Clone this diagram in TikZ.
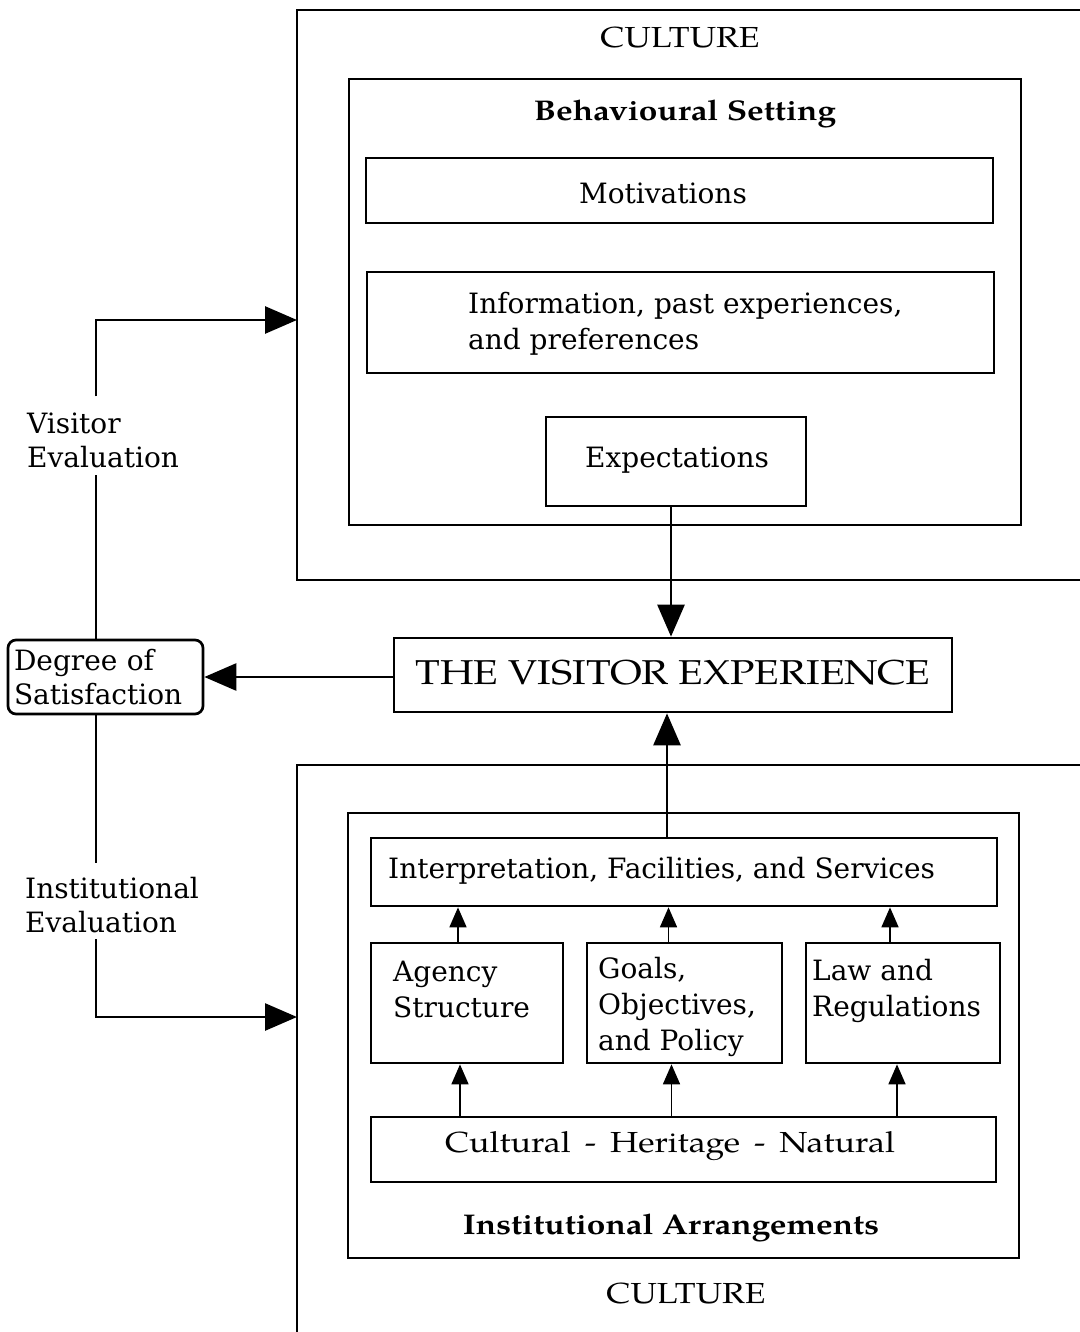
\documentclass[tikz,border=0pt]{standalone}
\usepackage{fontspec}
\setmainfont{DejaVu Serif}
\newfontfamily\pala{texgyrepagella}[Extension=.otf,UprightFont=*-regular,BoldFont=*-bold,FakeStretch=1.17]
\usetikzlibrary{arrows.meta}
\begin{document}
\begin{tikzpicture}[x=1pt,y=-1pt,
  box/.style={draw,line width=2.7pt,inner sep=0pt},
  frame/.style={line width=2.7pt},
  txt/.style={inner sep=0pt,align=left,font=\fontsize{28}{36}\selectfont},
  title/.style={inner sep=0pt,font=\pala\bfseries\fontsize{28.5}{34}\selectfont},
  cult/.style={inner sep=0pt,font=\pala\fontsize{29}{34}\selectfont},
  arr/.style={line width=2.7pt,-{Triangle[length=32pt,width=27pt]}},
  sarr/.style={line width=1.7pt,-{Triangle[length=20pt,width=17pt]}},
  line/.style={line width=2.7pt}]
\useasboundingbox (0,0) rectangle (1079,1332);

% outer CULTURE frames (open on the right / bottom)
\draw[frame] (1085,10) -- (297,10) -- (297,580) -- (1085,580);
\draw[frame] (1085,765) -- (297,765) -- (297,1340);
\coordinate (cultTopW) at (297,320);
\coordinate (cultBotW) at (297,1017);
\node[cult] (cultT) at (680,38) {CULTURE};
\node[cult] (cultB) at (686,1293) {CULTURE};

% Behavioural setting
\node[box,minimum width=672pt,minimum height=446pt] (beh) at (685,302) {};
\node[title] (behT) at (685,114) {Behavioural Setting};
\node[box,minimum width=627pt,minimum height=65pt] (mot) at (679.5,190.5) {};
\node[txt] (motT) at (663,193) {Motivations};
\node[box,minimum width=627pt,minimum height=101pt] (info) at (680.5,322.5) {};
\node[txt,anchor=west] (infoT) at (468,324) {Information, past experiences,\\and preferences};
\node[box,minimum width=260pt,minimum height=89pt] (exp) at (676,461.5) {};
\node[txt] (expT) at (677,460) {Expectations};

% Visitor experience
\node[box,minimum width=558pt,minimum height=74pt] (ve) at (673,675) {};
\node[inner sep=0pt,font=\pala\fontsize{34.5}{40}\selectfont] (veT) at (673,673) {THE VISITOR EXPERIENCE};

% Degree of satisfaction
\node[draw,line width=2.7pt,rounded corners=8pt,minimum height=74pt,
      inner xsep=6pt,inner ysep=0pt,text width=183pt,align=left,
      font=\fontsize{28}{34}\selectfont] (dos) at (105.5,677) {Degree of\\Satisfaction};

% Institutional arrangements
\node[box,minimum width=671pt,minimum height=445pt] (ia) at (683.5,1035.5) {};
\node[title] (iaT) at (671,1228) {Institutional Arrangements};
\node[box,minimum width=626pt,minimum height=68pt] (interp) at (684,872) {};
\node[txt,anchor=west] (interpT) at (388,871) {Interpretation, Facilities, and Services};
\node[box,minimum width=192pt,minimum height=120pt] (agency) at (467,1003) {};
\node[txt,anchor=west] (agencyT) at (393,989) {Agency\\Structure};
\node[box,minimum width=195pt,minimum height=120pt] (goals) at (684.5,1003) {};
\node[txt,anchor=west] (goalsT) at (598,1007) {Goals,\\Objectives,\\and Policy};
\node[box,minimum width=194pt,minimum height=120pt] (law) at (903,1003) {};
\node[txt,anchor=west] (lawT) at (812,991) {Law and\\Regulations};
\node[box,minimum width=625pt,minimum height=65pt] (chn) at (683.5,1149.5) {};
\node[cult] (chnT) at (670,1146) {Cultural\hspace{14pt}-\hspace{14pt}Heritage\hspace{14pt}-\hspace{14pt}Natural};

% side labels
\node[txt,anchor=west,font=\fontsize{28}{34}\selectfont] (veval) at (27,440) {Visitor\\Evaluation};
\node[txt,anchor=west,font=\fontsize{28}{34}\selectfont] (ieval) at (25,905) {Institutional\\Evaluation};
\coordinate (colL) at (96,0);

% connectors
\draw[arr] ([xshift=-5pt]exp.south) -- ([xshift=-5pt]exp.south |- ve.north);
\draw[arr] ([xshift=-6pt]ve.south |- interp.north) -- ([xshift=-6pt]ve.south);
\draw[arr] ([yshift=-2pt]ve.west) -- ([yshift=-2pt]ve.west -| dos.east);
\draw[line] (dos.north -| colL) -- ([yshift=-7pt]veval.south -| colL);
\draw[arr] ([yshift=16pt]veval.north -| colL) |- (cultTopW);
\draw[line] (dos.south -| colL) -- ([yshift=14pt]ieval.north -| colL);
\draw[arr] ([yshift=-6pt]ieval.south -| colL) |- (cultBotW);

\draw[sarr] ([xshift=-9pt]agency.north) -- ([xshift=-9pt]agency.north |- interp.south);
\draw[sarr] ([xshift=-16pt]goals.north) -- ([xshift=-16pt]goals.north |- interp.south);
\draw[sarr] ([xshift=-13pt]law.north) -- ([xshift=-13pt]law.north |- interp.south);
\draw[sarr] ([xshift=-7pt]chn.north -| agency.north) -- ([xshift=-7pt]agency.south);
\draw[sarr] ([xshift=-13pt]chn.north -| goals.north) -- ([xshift=-13pt]goals.south);
\draw[sarr] ([xshift=-6pt]chn.north -| law.north) -- ([xshift=-6pt]law.south);
\end{tikzpicture}
\end{document}
